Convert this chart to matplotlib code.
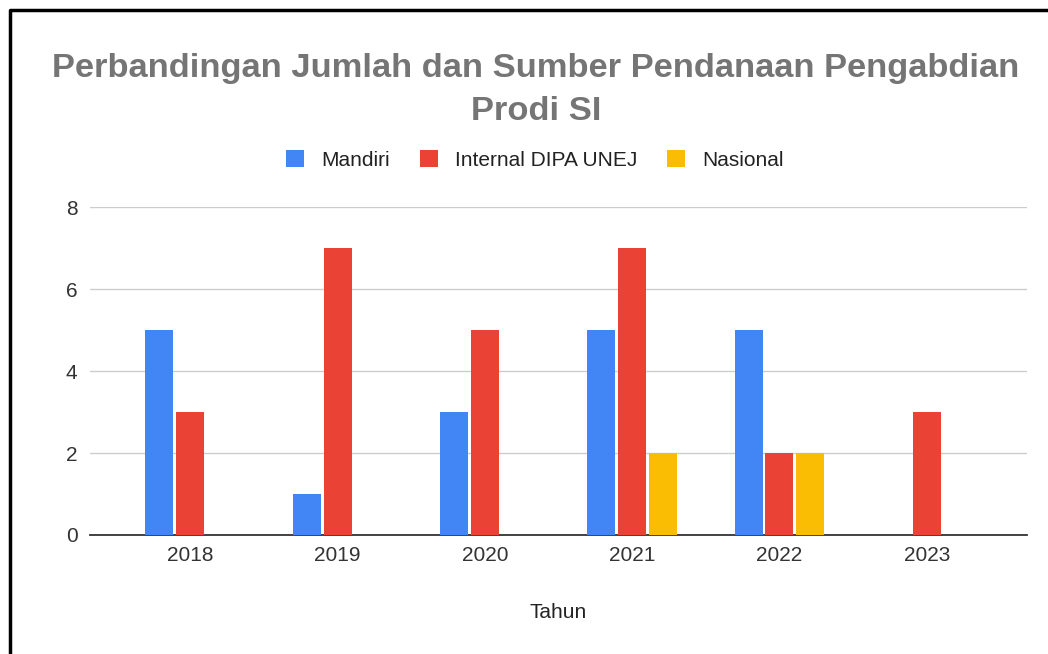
import matplotlib
matplotlib.use("Agg")
import matplotlib.pyplot as plt
from matplotlib.lines import Line2D
import numpy as np

years = ["2018", "2019", "2020", "2021", "2022", "2023"]
mandiri = [5, 1, 3, 5, 5, 0]
internal = [3, 7, 5, 7, 2, 3]
nasional = [0, 0, 0, 2, 2, 0]
series_names = ["Mandiri", "Internal DIPA UNEJ", "Nasional"]
colors = ["#4285F4", "#EA4335", "#FBBC04"]
title_lines = ["Perbandingan Jumlah dan Sumber Pendanaan Pengabdian", "Prodi SI"]
xlabel = "Tahun"

W, H = 1048, 654
FONT = "Liberation Sans"
fig = plt.figure(figsize=(W / 100, H / 100), dpi=100)
fig.patch.set_facecolor("white")

ax = fig.add_axes([90 / W, 1 - 535 / H, (1027 - 90) / W, (535 - 207) / H])
x = np.arange(len(years))
off = 0.21
width = 0.19
for i, (vals, name, c) in enumerate(zip([mandiri, internal, nasional], series_names, colors)):
    ax.bar(x + (i - 1) * off, vals, width=width, color=c, label=name, zorder=3)

ax.set_xlim(-0.68, len(years) - 1 + 0.68)
ax.set_ylim(0, 8)
ax.set_yticks([0, 2, 4, 6, 8])
ax.set_xticks(x)
ax.set_xticklabels(years)
for s in ["top", "right", "left"]:
    ax.spines[s].set_visible(False)
ax.spines["bottom"].set_color("#333333")
ax.spines["bottom"].set_linewidth(1.3)
ax.grid(axis="y", color="#cccccc", linewidth=1.0, zorder=0)
ax.tick_params(axis="both", length=0, labelsize=15, colors="#333333", labelfontfamily=FONT)
ax.tick_params(axis="x", pad=8)
ax.tick_params(axis="y", pad=9)

fig.text(558 / W, 1 - 612 / H, xlabel, ha="center", va="center", fontsize=15,
         color="#222222", fontfamily=FONT)

fig.text(536 / W, 1 - 77 / H, title_lines[0], ha="center", va="baseline", fontsize=24.8,
         fontweight="bold", color="#757575", fontfamily=FONT)
fig.text(536 / W, 1 - 119.5 / H, title_lines[1], ha="center", va="baseline", fontsize=24.8,
         fontweight="bold", color="#757575", fontfamily=FONT)

leg = fig.legend(loc="center", bbox_to_anchor=(535 / W, 1 - 160 / H), ncol=3, frameon=False,
                 prop={"family": FONT, "size": 15}, handlelength=0.87, handleheight=0.87,
                 handletextpad=0.82, columnspacing=1.44, borderpad=0, borderaxespad=0)
for t in leg.get_texts():
    t.set_color("#222222")

fig.add_artist(Line2D([10 / W, 10 / W, 1.0], [0, 1 - 10 / H, 1 - 10 / H],
                      transform=fig.transFigure, color="black", linewidth=2.5))

fig.savefig("out.png", dpi=100)
